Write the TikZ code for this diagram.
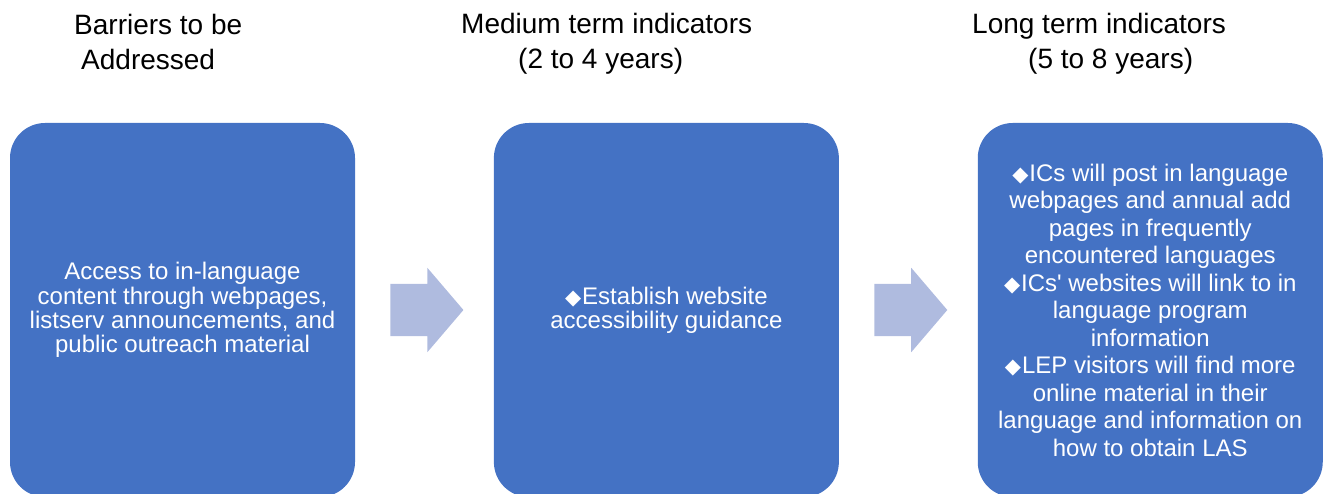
\documentclass[tikz,border=0pt]{standalone}
\usepackage{fontspec}
\setmainfont{Liberation Sans}
\newfontfamily\symfont{DejaVu Sans}
\usetikzlibrary{shapes.arrows, positioning}
\definecolor{BoxBlue}{HTML}{4472C4}
\definecolor{ArrowBlue}{HTML}{AFBBDF}
\newcommand{\bul}{{\symfont\fontsize{21}{21}\selectfont ◆}\hspace{1pt}}
\tikzset{
    % Stage box style
    stagebox/.style={
        rectangle,
        rounded corners=35pt,
        fill=BoxBlue,
        text=white,
        minimum width=345pt,
        minimum height=374pt,
        inner sep=0pt,
        align=center,
        font=\fontsize{24}{24.4}\selectfont
    },
    % Block arrow style
    blockarrow/.style={
        single arrow,
        fill=ArrowBlue,
        minimum height=73pt,
        inner xsep=0pt,
        inner ysep=26pt,
        single arrow head extend=16pt,
        single arrow tip angle=99
    },
    % Column heading style
    heading/.style={
        anchor=north west,
        inner sep=0pt,
        align=left,
        font=\fontsize{28}{35}\selectfont
    }
}
\begin{document}
\begin{tikzpicture}[x=1pt, y=-1pt]
    \useasboundingbox (0,0) rectangle (1324,494);

    \node (barrier) [stagebox] at (182.5,310) {Access to in-language\\content through webpages,\\listserv announcements, and\\public outreach material};
    \node (arrowA) [blockarrow, right=35pt of barrier] {};
    \node (medium) [stagebox, right=30pt of arrowA] {\bul Establish website\\accessibility guidance};
    \node (arrowB) [blockarrow, right=35pt of medium] {};
    \node (long) [stagebox, right=30pt of arrowB, font=\fontsize{24}{27.5}\selectfont] {\bul ICs will post in language\\webpages and annual add\\pages in frequently\\encountered languages\\\bul ICs\textquotesingle{} websites will link to in\\language program\\information\\\bul LEP visitors will find more\\online material in their\\language and information on\\how to obtain LAS};

    % Headings
    \node (hbarrier) [heading] at (74,14) {Barriers to be\\\hspace*{7pt}Addressed};
    \node (hmedium) [heading] at (461,13) {Medium term indicators\\\hspace*{57pt}(2 to 4 years)};
    \node (hlong) [heading] at (972,13) {Long term indicators\\\hspace*{56pt}(5 to 8 years)};
\end{tikzpicture}
\end{document}
